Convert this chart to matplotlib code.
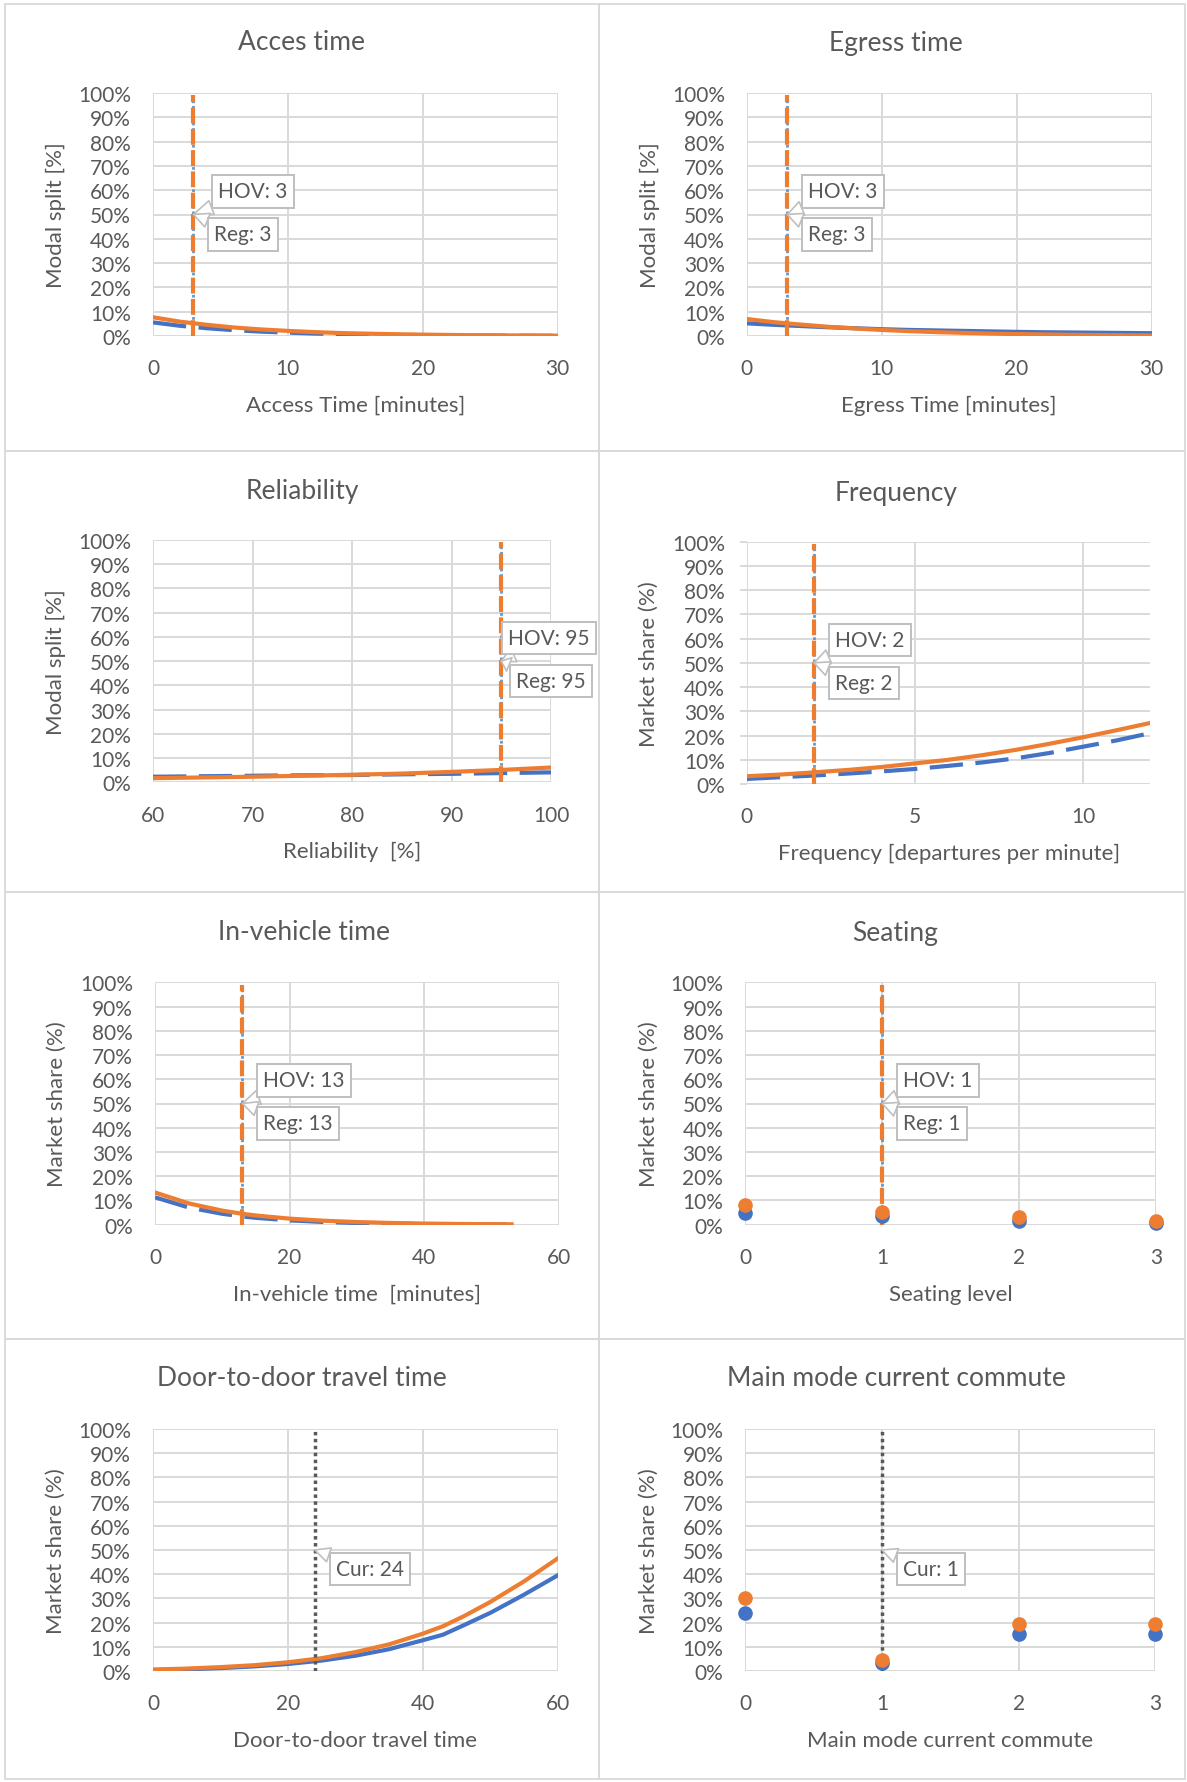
import numpy as np
import matplotlib
matplotlib.use("Agg")
import matplotlib.pyplot as plt
from matplotlib.ticker import PercentFormatter
from matplotlib.patches import Rectangle

plt.rcParams['font.family'] = ['Lato', 'DejaVu Sans']

# ---------------- DATA (market share in %) ----------------
access_x = [0, 2, 4, 6, 8, 10, 12, 14, 16, 18, 20, 22, 24, 26, 28, 30]
access_hov = [5.6, 4.2, 3.2, 2.4, 1.8, 1.4, 1.0, 0.78, 0.59, 0.44, 0.34, 0.25, 0.19, 0.14, 0.11, 0.08]
access_reg = [7.7, 5.9, 4.6, 3.5, 2.7, 2.1, 1.6, 1.2, 0.95, 0.73, 0.56, 0.43, 0.33, 0.26, 0.2, 0.15]

egress_x = [0, 2, 4, 6, 8, 10, 12, 14, 16, 18, 20, 22, 24, 26, 28, 30]
egress_hov = [5.2, 4.6, 4.1, 3.6, 3.2, 2.8, 2.5, 2.3, 2.1, 1.9, 1.7, 1.55, 1.45, 1.35, 1.25, 1.15]
egress_reg = [7.0, 5.7, 4.7, 3.8, 3.1, 2.5, 2.0, 1.6, 1.3, 1.0, 0.8, 0.65, 0.5, 0.4, 0.3, 0.25]

rel_x = [60, 65, 70, 75, 80, 85, 90, 95, 100]
rel_hov = [2.3, 2.5, 2.7, 2.9, 3.0, 3.3, 3.5, 3.8, 4.1]
rel_reg = [1.7, 2.0, 2.3, 2.7, 3.1, 3.6, 4.3, 5.1, 6.1]

freq_x = [0, 1, 2, 3, 4, 5, 6, 7, 8, 9, 10, 11, 12]
freq_hov = [2.1, 2.8, 3.5, 4.3, 5.2, 6.2, 7.5, 8.9, 10.6, 12.8, 15.4, 18.0, 21.0]
freq_reg = [3.2, 3.9, 4.8, 5.8, 7.0, 8.5, 10.0, 11.9, 14.1, 16.6, 19.3, 22.2, 25.2]

ivt_x = [0, 5, 10, 13, 15, 20, 25, 30, 35, 40, 45, 50, 53]
ivt_hov = [11.3, 7.1, 4.5, 3.4, 2.83, 1.78, 1.12, 0.71, 0.45, 0.28, 0.18, 0.11, 0.08]
ivt_reg = [13.3, 8.8, 5.8, 4.5, 3.8, 2.5, 1.65, 1.09, 0.72, 0.47, 0.31, 0.2, 0.16]

seat_x = [0, 1, 2, 3]
seat_hov = [4.8, 3.7, 1.4, 0.6]
seat_reg = [8.3, 5.1, 3.0, 1.4]

d2d_x = [0, 5, 10, 15, 20, 25, 30, 35, 40, 43, 46, 50, 55, 60]
d2d_hov = [0.4, 0.7, 1.2, 1.9, 2.9, 4.3, 6.3, 9.0, 12.7, 15.0, 18.8, 24.0, 31.5, 39.5]
d2d_reg = [0.6, 1.0, 1.6, 2.4, 3.6, 5.3, 7.8, 11.0, 15.4, 18.5, 22.5, 28.5, 37.0, 46.5]

mode_x = [0, 1, 2, 3]
mode_hov = [24.1, 3.2, 15.2, 15.2]
mode_reg = [30.3, 4.6, 19.6, 19.6]

# current values (vertical markers)
access_cur = 3
egress_cur = 3
rel_cur = 95
freq_cur = 2
ivt_cur = 13
seat_cur = 1
d2d_cur = 24
mode_cur = 1

# ---------------- STYLE ----------------
W, H = 1187, 1783
BLUE = '#4472C4'
ORANGE = '#ED7D31'
LIGHT_BLUE = '#5B9BD5'
TXT = '#595959'
GRID = '#D9D9D9'

fig = plt.figure(figsize=(W / 100, H / 100), dpi=100)

# chart frames (px): left, top, right, bottom
frames = [(5, 5, 599, 452), (599, 5, 1185, 452),
          (5, 452, 599, 893), (599, 452, 1185, 893),
          (5, 893, 599, 1340), (599, 893, 1185, 1340),
          (5, 1340, 599, 1780), (599, 1340, 1185, 1780)]
for l, t, r, b in frames:
    fig.patches.append(Rectangle((l / W, 1 - b / H), (r - l) / W, (b - t) / H,
                                 transform=fig.transFigure, fill=False,
                                 ec=GRID, lw=1.3))


def make_axes(l, t, r, b):
    return fig.add_axes([l / W, 1 - b / H, (r - l) / W, (b - t) / H])


def style(ax, box, xlim, xticks, title, title_xy, xlabel, ylabel, ylab_x, yticklen=0):
    l, t, r, b = box
    ax.set_xlim(*xlim)
    ax.set_ylim(0, 1)
    ax.set_xticks(xticks)
    ax.set_yticks(np.arange(0, 1.01, 0.1))
    ax.yaxis.set_major_formatter(PercentFormatter(1.0, decimals=0))
    ax.grid(True, color=GRID, lw=1.4)
    ax.set_axisbelow(True)
    for s in ax.spines.values():
        s.set_visible(False)
    ax.tick_params(axis='both', length=0, labelsize=15, labelcolor=TXT)
    ax.tick_params(axis='x', pad=16)
    ax.tick_params(axis='y', pad=(22 - yticklen) * 0.72, length=yticklen * 0.72,
                   width=1.4, color=GRID, direction='out')
    ax.set_xlabel(xlabel, fontsize=16, color=TXT, va='center')
    ax.xaxis.set_label_coords(0.5, -69 / (b - t))
    ax.set_ylabel(ylabel, fontsize=16, color=TXT, va='center')
    ax.yaxis.set_label_coords((ylab_x - l) / (r - l), 0.5)
    fig.text(title_xy[0] / W, 1 - title_xy[1] / H, title, fontsize=19,
             color=TXT, ha='center', va='center')


def curves(ax, x, hov, reg, hov_dashed=True):
    ls = dict(dashes=(8, 3)) if hov_dashed else {}
    ax.plot(x, np.array(hov) / 100, color=BLUE, lw=3, **ls)
    ax.plot(x, np.array(reg) / 100, color=ORANGE, lw=3)


def callout(ax, x, text, dx, dy):
    ax.annotate(text, xy=(x, 0.5), xytext=(dx, dy), textcoords='offset pixels',
                ha='left', va='center', fontsize=15, color=TXT, zorder=10,
                annotation_clip=False,
                bbox=dict(boxstyle='square,pad=0.3', fc='white', ec='#BFBFBF', lw=1.4),
                arrowprops=dict(arrowstyle='wedge,tail_width=0.7,shrink_factor=0.5',
                                fc='white', ec='#BFBFBF', lw=1.2, shrinkA=0, shrinkB=0))


def hov_reg_line(ax, x, dx_hov=21, dx_reg=21):
    ax.plot([x, x], [0, 0.99], color=LIGHT_BLUE, lw=2, dashes=(1, 1), zorder=4)
    ax.plot([x, x], [0, 0.99], color=ORANGE, lw=3, dashes=(3.8, 1.3), zorder=5)
    callout(ax, x, f"HOV: {x}", dx_hov, 23)
    callout(ax, x, f"Reg: {x}", dx_reg, -20)


def cur_line(ax, x):
    ax.plot([x, x], [0, 0.99], color=TXT, lw=2.5, dashes=(1, 1), zorder=5)
    callout(ax, x, f"Cur: {x}", 21, -19)


# ---- Access time ----
box = (153, 94, 557.6, 337)
ax = make_axes(*box)
curves(ax, access_x, access_hov, access_reg)
hov_reg_line(ax, access_cur, dx_hov=25)
style(ax, box, (0, 30), [0, 10, 20, 30], "Acces time", (302, 43),
      "Access Time [minutes]", "Modal split [%]", 56)

# ---- Egress time ----
box = (746.8, 94, 1151.5, 337)
ax = make_axes(*box)
curves(ax, egress_x, egress_hov, egress_reg, hov_dashed=False)
hov_reg_line(ax, egress_cur)
style(ax, box, (0, 30), [0, 10, 20, 30], "Egress time", (896, 43),
      "Egress Time [minutes]", "Modal split [%]", 650)

# ---- Reliability ----
box = (153, 541, 551, 783.3)
ax = make_axes(*box)
curves(ax, rel_x, rel_hov, rel_reg)
hov_reg_line(ax, rel_cur, dx_hov=7, dx_reg=15)
style(ax, box, (60, 100), [60, 70, 80, 90, 100], "Reliability", (302, 492),
      "Reliability  [%]", "Modal split [%]", 56)

# ---- Frequency ----
box = (746.8, 542.7, 1150.4, 785)
ax = make_axes(*box)
curves(ax, freq_x, freq_hov, freq_reg)
hov_reg_line(ax, freq_cur)
style(ax, box, (0, 12), [0, 5, 10], "Frequency", (896, 493),
      "Frequency [departures per minute]", "Market share (%)", 649, yticklen=7)

# ---- In-vehicle time ----
box = (155, 983.3, 558.7, 1225.7)
ax = make_axes(*box)
curves(ax, ivt_x, ivt_hov, ivt_reg)
hov_reg_line(ax, ivt_cur)
style(ax, box, (0, 60), [0, 20, 40, 60], "In-vehicle time", (304, 933),
      "In-vehicle time  [minutes]", "Market share (%)", 57)

# ---- Seating ----
box = (745.3, 983.3, 1156, 1225.7)
ax = make_axes(*box)
ax.plot(seat_x, np.array(seat_hov) / 100, 'o', color=BLUE, ms=9.5, clip_on=False, zorder=6)
ax.plot(seat_x, np.array(seat_reg) / 100, 'o', color=ORANGE, ms=9.5, clip_on=False, zorder=6)
hov_reg_line(ax, seat_cur)
style(ax, box, (0, 3), [0, 1, 2, 3], "Seating", (895, 933),
      "Seating level", "Market share (%)", 649)

# ---- Door-to-door travel time ----
box = (153, 1430, 557.6, 1672)
ax = make_axes(*box)
curves(ax, d2d_x, d2d_hov, d2d_reg, hov_dashed=False)
cur_line(ax, d2d_cur)
style(ax, box, (0, 60), [0, 20, 40, 60], "Door-to-door travel time", (302, 1378),
      "Door-to-door travel time", "Market share (%)", 56)

# ---- Main mode current commute ----
box = (745.3, 1430, 1155.2, 1672)
ax = make_axes(*box)
ax.plot(mode_x, np.array(mode_hov) / 100, 'o', color=BLUE, ms=9.5, clip_on=False, zorder=6)
ax.plot(mode_x, np.array(mode_reg) / 100, 'o', color=ORANGE, ms=9.5, clip_on=False, zorder=6)
cur_line(ax, mode_cur)
style(ax, box, (0, 3), [0, 1, 2, 3], "Main mode current commute", (896, 1378),
      "Main mode current commute", "Market share (%)", 649)

fig.savefig("out.png", dpi=100, facecolor='white')
